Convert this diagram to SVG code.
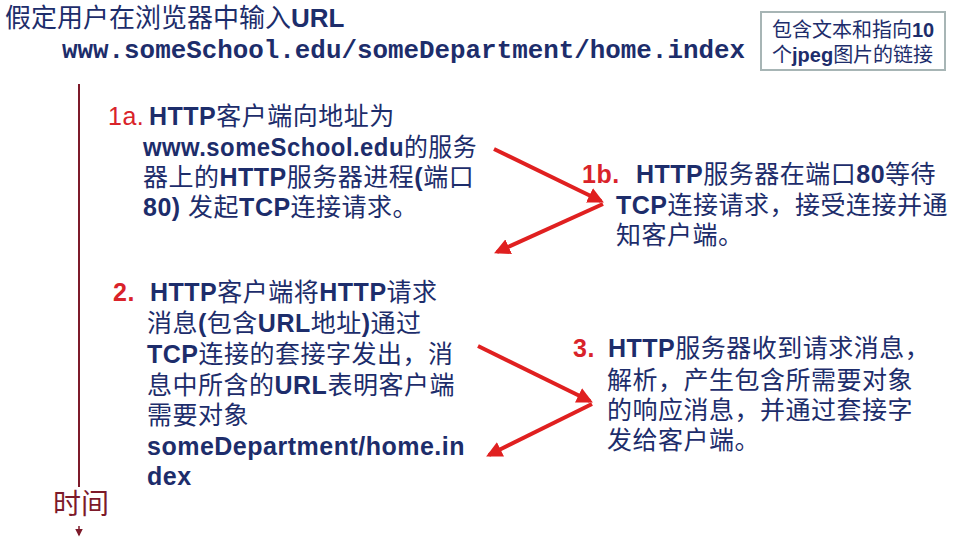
<svg xmlns="http://www.w3.org/2000/svg" width="959" height="537" viewBox="0 0 959 537">
<style>
  .t { font-family: "Liberation Sans","Noto Sans CJK SC",sans-serif; fill: #1d2d6b; font-size: 25px; letter-spacing: 0.5px; }
  .b { font-weight: bold; }
  .cj { font-family: "Noto Sans CJK SC",sans-serif; font-weight: normal; }
  .red { fill: #d9232a; }
  .mono { font-family: "Liberation Mono","Noto Sans CJK SC",monospace; font-weight: bold; fill: #1d2d6b; font-size: 26px; }
  .conn { stroke: #e02020; stroke-width: 4; fill: none; }
</style>
<defs>
  <marker id="ah" viewBox="0 0 10 10" refX="8" refY="5" markerWidth="4" markerHeight="4" orient="auto" markerUnits="strokeWidth">
    <path d="M0,0 L10,5 L0,10 z" fill="#e02020"/>
  </marker>
  <marker id="ahd" viewBox="0 0 10 10" refX="8" refY="5" markerWidth="5" markerHeight="5" orient="auto" markerUnits="strokeWidth">
    <path d="M0,0 L10,5 L0,10 z" fill="#7d1a2a"/>
  </marker>
</defs>
<rect width="959" height="537" fill="#ffffff"/>

<g id="title">
  <text class="t" x="5" y="27" style="font-size:26px;letter-spacing:0px"><tspan class="cj">假定用户在浏览器中输入</tspan><tspan class="b">URL</tspan></text>
  <text class="mono" x="62" y="58" textLength="683" lengthAdjust="spacingAndGlyphs">www.someSchool.edu/someDepartment/home.index</text>
</g>

<g id="note">
  <rect x="761" y="12" width="184" height="58" fill="#ffffff" stroke="#a7b5b5" stroke-width="2"/>
  <text class="t" x="772" y="37" style="font-size:20px;letter-spacing:0px"><tspan class="cj">包含文本和指向</tspan><tspan class="b">10</tspan></text>
  <text class="t" x="772" y="62" style="font-size:20px;letter-spacing:0px"><tspan class="cj">个</tspan><tspan class="b">jpeg</tspan><tspan class="cj">图片的链接</tspan></text>
</g>

<g id="timeline">
  <line x1="79" y1="84" x2="79" y2="487" stroke="#7d1a2a" stroke-width="2"/>
  <text x="53" y="514" font-family="Noto Sans CJK SC,sans-serif" font-size="28" fill="#7d1a2a">时间</text>
  <line x1="79" y1="526" x2="79" y2="535" stroke="#7d1a2a" stroke-width="1.5" marker-end="url(#ahd)"/>
</g>

<g id="step1a">
  <text class="t" x="108" y="125"><tspan class="red">1a.</tspan><tspan class="b" x="149">HTTP</tspan><tspan class="cj">客户端向地址为</tspan></text>
  <text class="t" x="143" y="156" textLength="334" lengthAdjust="spacingAndGlyphs"><tspan class="b">www.someSchool.edu</tspan><tspan class="cj">的服务</tspan></text>
  <text class="t" x="143" y="186"><tspan class="cj">器上的</tspan><tspan class="b">HTTP</tspan><tspan class="cj">服务器进程</tspan><tspan class="b">(</tspan><tspan class="cj">端口</tspan></text>
  <text class="t" x="143" y="216"><tspan class="b">80) </tspan><tspan class="cj">发起</tspan><tspan class="b">TCP</tspan><tspan class="cj">连接请求。</tspan></text>
</g>

<g id="step1b">
  <text class="t" x="582" y="183"><tspan class="red b">1b.</tspan><tspan class="b" x="636">HTTP</tspan><tspan class="cj">服务器在端口</tspan><tspan class="b">80</tspan><tspan class="cj">等待</tspan></text>
  <text class="t" x="616" y="214"><tspan class="b">TCP</tspan><tspan class="cj">连接请求，接受连接并通</tspan></text>
  <text class="t" x="616" y="244"><tspan class="cj">知客户端。</tspan></text>
</g>

<g id="step2">
  <text class="t" x="113" y="301"><tspan class="red b">2.</tspan><tspan class="b" x="150">HTTP</tspan><tspan class="cj">客户端将</tspan><tspan class="b">HTTP</tspan><tspan class="cj">请求</tspan></text>
  <text class="t" x="147" y="332"><tspan class="cj">消息</tspan><tspan class="b">(</tspan><tspan class="cj">包含</tspan><tspan class="b">URL</tspan><tspan class="cj">地址</tspan><tspan class="b">)</tspan><tspan class="cj">通过</tspan></text>
  <text class="t" x="147" y="363"><tspan class="b">TCP</tspan><tspan class="cj">连接的套接字发出，消</tspan></text>
  <text class="t" x="147" y="394"><tspan class="cj">息中所含的</tspan><tspan class="b">URL</tspan><tspan class="cj">表明客户端</tspan></text>
  <text class="t" x="147" y="424"><tspan class="cj">需要对象</tspan></text>
  <text class="t b" x="147" y="455">someDepartment/home.in</text>
  <text class="t b" x="147" y="485">dex</text>
</g>

<g id="step3">
  <text class="t" x="573" y="357"><tspan class="red b">3.</tspan><tspan class="b" x="608">HTTP</tspan><tspan class="cj">服务器收到请求消息，</tspan></text>
  <text class="t" x="607" y="389"><tspan class="cj">解析，产生包含所需要对象</tspan></text>
  <text class="t" x="607" y="419"><tspan class="cj">的响应消息，并通过套接字</tspan></text>
  <text class="t" x="607" y="449"><tspan class="cj">发给客户端。</tspan></text>
</g>

<g id="connectors">
  <line class="conn" x1="494" y1="149" x2="601" y2="201" marker-end="url(#ah)"/>
  <line class="conn" x1="603" y1="204" x2="497" y2="252" marker-end="url(#ah)"/>
  <line class="conn" x1="478" y1="346" x2="590" y2="401" marker-end="url(#ah)"/>
  <line class="conn" x1="592" y1="404" x2="489" y2="455" marker-end="url(#ah)"/>
</g>
</svg>
